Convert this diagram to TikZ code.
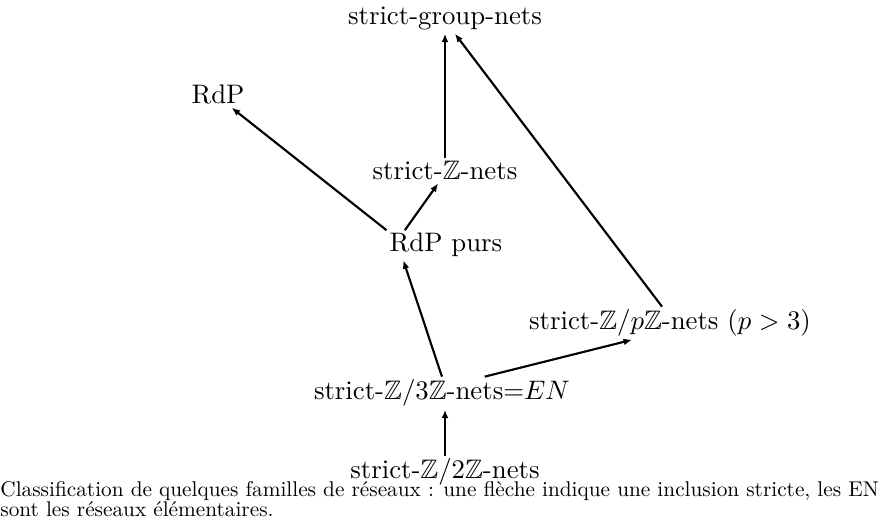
\documentclass[tikz,border=0pt]{standalone}
\usepackage{amsmath,amssymb}
\usepackage{tikz}
\usetikzlibrary{arrows.meta}
\tikzset{
  famille/.style={inner sep=1pt,anchor=base,text=black},
  incl/.style={-{Latex[length=1.1mm,width=0.9mm]},thick,draw=black}
}
\begin{document}
\begin{tikzpicture}[x=1cm,y=1cm]
  \useasboundingbox (0,0) rectangle (11.575,6.837);
  \node[famille] (group) at (5.84,6.509) {strict-group-nets};
  \node[famille] (rdp) at (2.861,5.472) {RdP};
  \node[famille] (znets) at (5.84,4.475) {strict-$\mathbb{Z}$-nets};
  \node[famille] (purs) at (5.853,3.530) {RdP purs};
  \node[famille] (zp) at (8.793,2.507) {strict-$\mathbb{Z}/p\mathbb{Z}$-nets ($p>3$)};
  \node[famille] (z3) at (5.80,1.588) {strict-$\mathbb{Z}/3\mathbb{Z}$-nets=$EN$};
  \node[famille] (z2) at (5.84,0.551) {strict-$\mathbb{Z}/2\mathbb{Z}$-nets};
  % fleches = inclusions strictes
  \draw[incl] (znets.north) -- (group.south);
  \draw[incl] ([xshift=-0.105cm]zp.north) -- ([xshift=0.13cm]group.south);
  \draw[incl] (purs.north west) -- ([xshift=0.18cm]rdp.south);
  \draw[incl] ([xshift=-0.54cm]purs.north) -- ([xshift=-0.09cm]znets.south);
  \draw[incl] (z3.north) -- ([xshift=-0.56cm]purs.south);
  \draw[incl] ([xshift=0.56cm]z3.north) -- ([xshift=-0.5cm]zp.south);
  \draw[incl] (z2.north) -- (z2.north |- z3.south);
  \node[anchor=north west,inner sep=0pt,align=left,scale=0.795,transform shape,font=\fontsize{10pt}{9.2pt}\selectfont] (legende) at (0,0.517)
    {Classification de quelques familles de réseaux : une flèche indique une inclusion stricte, les EN\\sont les réseaux élémentaires.};
\end{tikzpicture}
\end{document}
